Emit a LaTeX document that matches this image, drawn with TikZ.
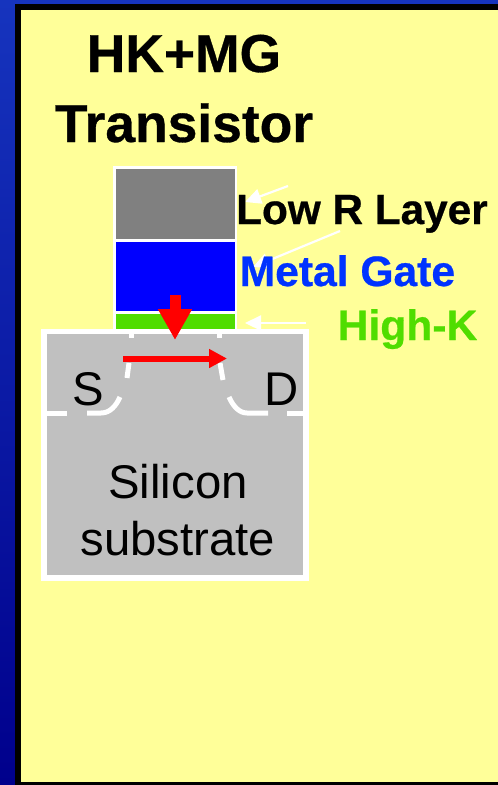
\documentclass[tikz,border=0pt]{standalone}
\usepackage{fontspec}
\setmainfont{Liberation Sans}[BoldFeatures={FakeBold=0.6}]
\usetikzlibrary{arrows.meta}
\definecolor{paper}{HTML}{FFFF99}
\definecolor{sub}{HTML}{C0C0C0}
\definecolor{poly}{HTML}{808080}
\definecolor{hk}{HTML}{50DD00}
\definecolor{mg}{HTML}{0033FF}
\definecolor{deskTop}{RGB}{22,52,190}
\definecolor{deskMid}{RGB}{24,50,178}
\definecolor{deskLow}{RGB}{0,0,140}
\tikzset{
  layer/.style={rectangle,draw=white,line width=2.5pt,minimum width=121.5pt,inner sep=0pt,outer sep=0pt,anchor=north west},
  title/.style={font=\fontsize{53.4}{53.4}\selectfont\bfseries,anchor=base,inner sep=0pt,text=black},
  callout/.style={font=\fontsize{42.6}{42.6}\selectfont\bfseries,anchor=base west,inner sep=0pt},
  plain/.style={font=\fontsize{47.3}{47.3}\selectfont,anchor=base,inner sep=0pt,text=black},
  pointer/.style={draw=white,line width=2.2pt,-{Triangle[length=16pt,width=15pt,fill=white]}},
  junction/.style={draw=white,line width=5pt}
}
\begin{document}
\begin{tikzpicture}[x=1pt,y=-1pt]
\useasboundingbox (0,0) rectangle (498,785);
% backdrop
\shade[top color=deskTop,middle color=deskMid,bottom color=deskLow] (0,0) rectangle (498,785);
\fill[black] (15,4) rectangle (498,785);
\fill[paper] (21,10) rectangle (498,782);
% gate stack
\node[layer,fill=poly,minimum height=73.25pt] (cap) at (114.25,167.25) {};
\node[layer,fill=blue,minimum height=72pt] (metal) at (114.25,240.5) {};
\node[layer,fill=hk,minimum height=20pt] (dielectric) at (114.25,312.5) {};
% substrate
\fill[white] (41,329) rectangle (309,581);
\node[rectangle,fill=sub,inner sep=0pt,outer sep=0pt,minimum width=256pt,minimum height=241pt,anchor=north west] (substrate) at (47,334) {};
% junction outlines
\draw[junction] (47,413) -- (67,413);
\draw[junction] (87,413) -- (101,413) .. controls (110,413) and (116,406) .. (120,397);
\draw[junction] (129,363) -- (127,378);
\draw[junction] (131,334) -- (131,338);
\draw[junction] (219,334) -- (219,338);
\draw[junction] (220,363) -- (223,380);
\draw[junction] (229,397) .. controls (233,406) and (239,413) .. (247,413) -- (268,413);
\draw[junction] (287,413) -- (303,413);
% current arrows
\coordinate (gateTail) at (175,295);
\coordinate (gateTip) at (175,340);
\coordinate (chanTail) at (123,358.5);
\coordinate (chanTip) at (227,358.5);
\draw[draw=red,line width=11pt,-{Triangle[length=31pt,width=32pt,fill=red]}] (gateTail) -- (gateTip);
\draw[draw=red,line width=6pt,-{Triangle[length=18pt,width=18pt,fill=red]}] (chanTail) -- (chanTip);
% pointers
\coordinate (lowFrom) at (288,186);
\coordinate (lowTo) at (245,202);
\coordinate (metalFrom) at (340,231);
\coordinate (metalTo) at (253,267);
\coordinate (hkFrom) at (306,323);
\coordinate (hkTo) at (245,323);
\draw[pointer] (lowFrom) -- (lowTo);
\draw[pointer] (metalFrom) -- (metalTo);
\draw[pointer] (hkFrom) -- (hkTo);
% text
\node[title] (t1) at (184,72) {HK+MG};
\node[title] (t2) at (184,142) {Transistor};
\node[callout,text=black,font=\fontsize{42.3}{42.3}\selectfont\bfseries] (low) at (236,224) {Low R Layer};
\node[callout,text=mg] (mgate) at (239.5,286) {Metal Gate};
\node[callout,text=hk] (high) at (337.5,340) {High-K};
\node[plain] (s) at (88,405) {S};
\node[plain] (d) at (281.5,405) {D};
\node[plain] (si) at (178,498.5) {Silicon};
\node[plain] (su) at (178,555.5) {substrate};
\end{tikzpicture}
\end{document}
